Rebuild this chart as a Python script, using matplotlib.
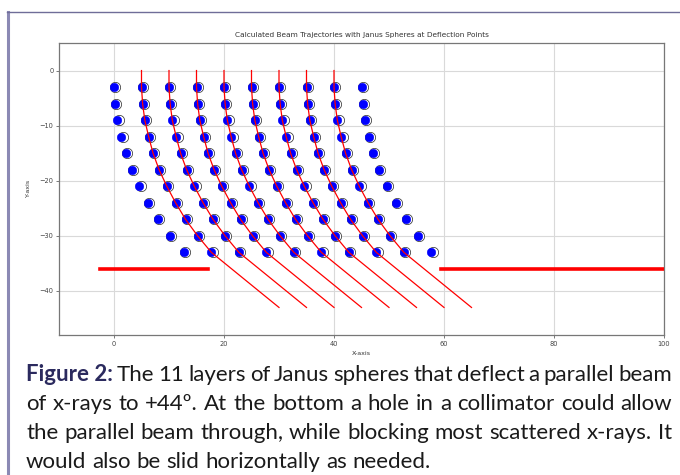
import matplotlib
matplotlib.use("Agg")
import matplotlib.pyplot as plt
from matplotlib.lines import Line2D

# Capas de esferas (y) y desplazamiento acumulado de cada capa (x)
layer_y = [-3, -6, -9, -12, -15, -18, -21, -24, -27, -30, -33]
layer_dx = [0.0, 0.2, 0.6, 1.3, 2.1, 3.2, 4.6, 6.2, 8.0, 10.2, 12.7]
column_x = [0, 5, 10, 15, 20, 25, 30, 35, 40, 45]

# Haces: origen en y=0 y punto final
beam_x = [5, 10, 15, 20, 25, 30, 35, 40]
beam_top_y = 0
beam_end_dx = 25
beam_end_y = -43

# Colimador
collimator_y = -36
collimator_left = [-2.5, 17]
collimator_right = [59.5, 100]

x_ticks = [0, 20, 40, 60, 80, 100]
y_ticks = [0, -10, -20, -30, -40]

caption_lines = [
    "The 11 layers of Janus spheres that deflect a parallel beam",
    "of x-rays to +44º. At the bottom a hole in a collimator could allow",
    "the parallel beam through, while blocking most scattered x-rays. It",
    "would also be slid horizontally as needed.",
]

W, H = 680, 475
fig = plt.figure(figsize=(W / 100, H / 100), dpi=100)
ax = fig.add_axes([59 / W, 140 / H, 605 / W, 292 / H])

# Esferas Janus
for cx in column_x:
    xs = [cx + d for d in layer_dx]
    ax.plot([x + 0.25 for x in xs], layer_y, ls='none', marker='o', ms=7.4,
            mfc='white', mec='#222222', mew=0.5, zorder=3)
    ax.plot(xs, layer_y, ls='none', marker='o', ms=6.2, color='blue',
            mec='blue', mew=0.3, zorder=4)

# Trayectorias
for x0 in beam_x:
    px = [x0] + [x0 + d for d in layer_dx] + [x0 + beam_end_dx]
    py = [beam_top_y] + layer_y + [beam_end_y]
    ax.plot(px, py, color='red', lw=0.9, zorder=5)

ax.plot(collimator_left, [collimator_y] * 2, color='red', lw=2.6, zorder=5)
ax.plot(collimator_right, [collimator_y] * 2, color='red', lw=2.6, zorder=5)

ax.set_xlim(-10, 100)
ax.set_ylim(-48, 5)
ax.set_xticks(x_ticks)
ax.set_yticks(y_ticks)
ax.grid(True, color='#d9d9d9', lw=0.8)
ax.set_axisbelow(True)
ax.tick_params(labelsize=4.8, length=2, width=0.5, colors='#444444', pad=2)
for s in ax.spines.values():
    s.set_color('#777777')
    s.set_linewidth(0.9)
ax.set_title("Calculated Beam Trajectories with Janus Spheres at Deflection Points",
             fontsize=5.3, color='#333333', pad=4)
ax.set_xlabel("X-axis", fontsize=4.6, color='#333333', labelpad=3)
ax.set_ylabel("Y-axis", fontsize=4.6, color='#333333', labelpad=6)

# Marco
fig.add_artist(Line2D([8 / W, 8 / W], [0, 1 - 11.5 / H], transform=fig.transFigure,
                      color='#8b89b4', lw=2.2))
fig.add_artist(Line2D([7 / W, 1], [1 - 11.5 / H] * 2, transform=fig.transFigure,
                      color='#6f6d98', lw=1.0))

# Pie de figura justificado
fig.canvas.draw()
renderer = fig.canvas.get_renderer()
fsize = 16.0
font = dict(family=['Lato', 'DejaVu Sans'], fontsize=fsize)
left_px, right_px = 26, 672
base0, step = 381, 29


def width_of(t):
    return t.get_window_extent(renderer).width


for i, line in enumerate(caption_lines):
    y = 1 - (base0 + i * step) / H
    words = []
    if i == 0:
        words.append(("Figure 2:", 'bold', '#2b2a5e'))
    words += [(w, 'normal', '#1a1a1a') for w in line.split()]
    texts = [fig.text(0, y, w, fontweight=wt, color=c, va='baseline', **font)
             for w, wt, c in words]
    widths = [width_of(t) for t in texts]
    if i < len(caption_lines) - 1:
        gap = (right_px - left_px - sum(widths)) / (len(words) - 1)
    else:
        gap = fsize * 100 / 72 * 0.26
    x = left_px
    for t, w in zip(texts, widths):
        t.set_x(x / W)
        x += w + gap

fig.savefig("out.png", dpi=100)
